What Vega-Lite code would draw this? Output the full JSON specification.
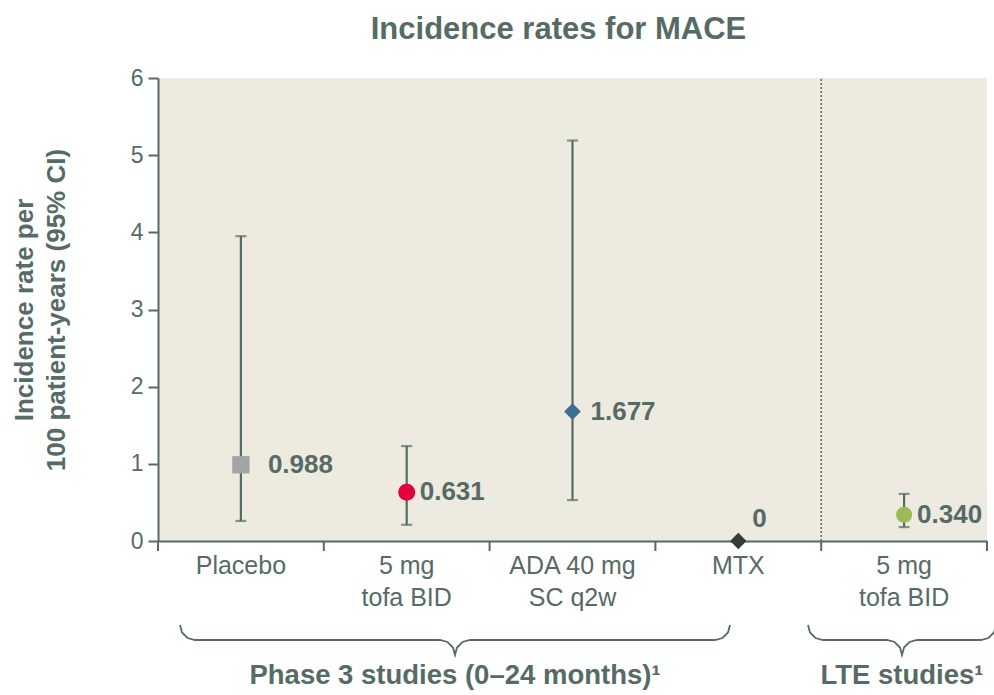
{
  "$schema": "https://vega.github.io/schema/vega-lite/v6.json",
  "width": 829,
  "height": 463,
  "autosize": {"type": "none"},
  "padding": {"left": 158, "top": 78, "right": 7, "bottom": 154},
  "background": "white",
  "title": {
    "text": "Incidence rates for MACE",
    "font": "Liberation Sans",
    "fontSize": 31,
    "fontWeight": "bold",
    "color": "#566b65",
    "anchor": "middle",
    "baseline": "alphabetic",
    "offset": 29.5,
    "dy": 32,
    "dx": -14
  },
  "config": {
    "view": {"fill": "#edeae0", "stroke": null},
    "font": "Liberation Sans",
    "axis": {
      "domainColor": "#566b65",
      "domainWidth": 2,
      "tickColor": "#566b65",
      "tickWidth": 2,
      "labelColor": "#566b65",
      "labelFont": "Liberation Sans",
      "titleColor": "#566b65",
      "titleFont": "Liberation Sans",
      "grid": false,
      "zindex": 0
    }
  },
  "datasets": {
    "rates": [
      {"cat": "Placebo", "rate": 0.988, "lo": 0.26, "hi": 3.95, "label": "0.988"},
      {"cat": "Tofa", "rate": 0.631, "lo": 0.21, "hi": 1.23, "label": "0.631"},
      {"cat": "ADA", "rate": 1.677, "lo": 0.53, "hi": 5.19, "label": "1.677"},
      {"cat": "MTX", "rate": 0, "lo": null, "hi": null, "label": "0"},
      {"cat": "LTE", "rate": 0.34, "lo": 0.18, "hi": 0.61, "label": "0.340"}
    ],
    "brace": [
      {"g": "phase", "o": 1, "x": 0.1327, "y": -1.0885},
      {"g": "phase", "o": 2, "x": 0.1448, "y": -1.1857},
      {"g": "phase", "o": 3, "x": 0.1779, "y": -1.257},
      {"g": "phase", "o": 4, "x": 0.2232, "y": -1.2829},
      {"g": "phase", "o": 5, "x": 1.7008, "y": -1.2829},
      {"g": "phase", "o": 6, "x": 1.7461, "y": -1.3088},
      {"g": "phase", "o": 7, "x": 1.7793, "y": -1.3801},
      {"g": "phase", "o": 8, "x": 1.7913, "y": -1.4773},
      {"g": "phase", "o": 9, "x": 1.8034, "y": -1.3801},
      {"g": "phase", "o": 10, "x": 1.8366, "y": -1.3088},
      {"g": "phase", "o": 11, "x": 1.8818, "y": -1.2829},
      {"g": "phase", "o": 12, "x": 3.3595, "y": -1.2829},
      {"g": "phase", "o": 13, "x": 3.4047, "y": -1.257},
      {"g": "phase", "o": 14, "x": 3.4379, "y": -1.1857},
      {"g": "phase", "o": 15, "x": 3.4499, "y": -1.0885},
      {"g": "lte", "o": 1, "x": 3.9204, "y": -1.0885},
      {"g": "lte", "o": 2, "x": 3.9324, "y": -1.1857},
      {"g": "lte", "o": 3, "x": 3.9656, "y": -1.257},
      {"g": "lte", "o": 4, "x": 4.0109, "y": -1.2829},
      {"g": "lte", "o": 5, "x": 4.3969, "y": -1.2829},
      {"g": "lte", "o": 6, "x": 4.4421, "y": -1.3088},
      {"g": "lte", "o": 7, "x": 4.4753, "y": -1.3801},
      {"g": "lte", "o": 8, "x": 4.4873, "y": -1.4773},
      {"g": "lte", "o": 9, "x": 4.4994, "y": -1.3801},
      {"g": "lte", "o": 10, "x": 4.5326, "y": -1.3088},
      {"g": "lte", "o": 11, "x": 4.5778, "y": -1.2829},
      {"g": "lte", "o": 12, "x": 4.9638, "y": -1.2829},
      {"g": "lte", "o": 13, "x": 5.009, "y": -1.257},
      {"g": "lte", "o": 14, "x": 5.0422, "y": -1.1857},
      {"g": "lte", "o": 15, "x": 5.0543, "y": -1.0885}
    ],
    "groups": [
      {"name": "Phase 3 studies (0–24 months)¹", "x": 1.7913, "y": -1.853},
      {"name": "LTE studies¹", "x": 4.4873, "y": -1.853}
    ]
  },
  "layer": [
    {
      "data": {"name": "rates"},
      "encoding": {
        "x": {
          "field": "cat",
          "type": "nominal",
          "sort": ["Placebo", "Tofa", "ADA", "MTX", "LTE"],
          "scale": {"domain": ["Placebo", "Tofa", "ADA", "MTX", "LTE"], "paddingInner": 0, "paddingOuter": 0},
          "axis": {
            "title": null,
            "ticks": false,
            "labelAngle": 0,
            "labelFontSize": 25,
            "labelPadding": 12,
            "labelLineHeight": 32,
            "labelExpr": "datum.value == 'Placebo' ? 'Placebo' : datum.value == 'Tofa' ? ['5 mg', 'tofa BID'] : datum.value == 'ADA' ? ['ADA 40 mg', 'SC q2w'] : datum.value == 'MTX' ? 'MTX' : ['5 mg', 'tofa BID']"
          }
        }
      },
      "layer": [
        {
          "transform": [{"filter": "datum.cat == 'LTE'"}],
          "mark": {"type": "rule", "color": "#566b65", "strokeWidth": 1.5, "strokeDash": [2, 2]},
          "encoding": {
            "x": {"field": "cat", "type": "nominal", "bandPosition": 0, "sort": ["Placebo", "Tofa", "ADA", "MTX", "LTE"],
              "axis": {
                "title": null,
                "ticks": false,
                "labelAngle": 0,
                "labelFontSize": 25,
                "labelPadding": 12,
                "labelLineHeight": 32,
                "labelExpr": "datum.value == 'Placebo' ? 'Placebo' : datum.value == 'Tofa' ? ['5 mg', 'tofa BID'] : datum.value == 'ADA' ? ['ADA 40 mg', 'SC q2w'] : datum.value == 'MTX' ? 'MTX' : ['5 mg', 'tofa BID']"
              }},
            "y": {"datum": 0, "type": "quantitative"},
            "y2": {"datum": 6}
          }
        },
        {
          "mark": {"type": "rule", "color": "#566b65", "strokeWidth": 2},
          "encoding": {
            "x": {"field": "cat", "type": "nominal", "bandPosition": 0, "sort": ["Placebo", "Tofa", "ADA", "MTX", "LTE"],
              "axis": {
                "title": null,
                "ticks": false,
                "labelAngle": 0,
                "labelFontSize": 25,
                "labelPadding": 12,
                "labelLineHeight": 32,
                "labelExpr": "datum.value == 'Placebo' ? 'Placebo' : datum.value == 'Tofa' ? ['5 mg', 'tofa BID'] : datum.value == 'ADA' ? ['ADA 40 mg', 'SC q2w'] : datum.value == 'MTX' ? 'MTX' : ['5 mg', 'tofa BID']"
              }},
            "y": {"datum": 0, "type": "quantitative"},
            "y2": {"datum": -0.13}
          }
        },
        {
          "transform": [{"filter": "datum.cat == 'LTE'"}],
          "mark": {"type": "rule", "color": "#566b65", "strokeWidth": 2},
          "encoding": {
            "x": {"field": "cat", "type": "nominal", "bandPosition": 1, "sort": ["Placebo", "Tofa", "ADA", "MTX", "LTE"],
              "axis": {
                "title": null,
                "ticks": false,
                "labelAngle": 0,
                "labelFontSize": 25,
                "labelPadding": 12,
                "labelLineHeight": 32,
                "labelExpr": "datum.value == 'Placebo' ? 'Placebo' : datum.value == 'Tofa' ? ['5 mg', 'tofa BID'] : datum.value == 'ADA' ? ['ADA 40 mg', 'SC q2w'] : datum.value == 'MTX' ? 'MTX' : ['5 mg', 'tofa BID']"
              }},
            "y": {"datum": 0, "type": "quantitative"},
            "y2": {"datum": -0.13}
          }
        },
        {
          "mark": {"type": "rule", "color": "#566b65", "strokeWidth": 2.2},
          "encoding": {
            "y": {
              "field": "lo",
              "type": "quantitative",
              "scale": {"domain": [0, 6], "nice": false},
              "axis": {
                "values": [0, 1, 2, 3, 4, 5, 6],
                "format": "d",
                "tickSize": 10,
                "labelPadding": 5,
                "labelFontSize": 23,
                "title": ["Incidence rate per", "100 patient-years (95% CI)"],
                "titleFontSize": 26,
                "titleFontWeight": "bold",
                "titleAngle": -90,
                "titleAlign": "center",
                "titleBaseline": "alphabetic",
                "titleLineHeight": 32,
                "titleX": -126,
                "titleY": 231.5
              }
            },
            "y2": {"field": "hi"}
          }
        },
        {
          "mark": {"type": "tick", "color": "#566b65", "thickness": 2.2, "size": 11, "orient": "horizontal"},
          "encoding": {"y": {"field": "hi", "type": "quantitative"}}
        },
        {
          "mark": {"type": "tick", "color": "#566b65", "thickness": 2.2, "size": 11, "orient": "horizontal"},
          "encoding": {"y": {"field": "lo", "type": "quantitative"}}
        },
        {
          "mark": {"type": "point", "filled": true, "opacity": 1},
          "encoding": {
            "y": {"field": "rate", "type": "quantitative"},
            "shape": {
              "field": "cat",
              "type": "nominal",
              "scale": {"domain": ["Placebo", "Tofa", "ADA", "MTX", "LTE"], "range": ["square", "circle", "diamond", "diamond", "circle"]},
              "legend": null
            },
            "color": {
              "field": "cat",
              "type": "nominal",
              "scale": {"domain": ["Placebo", "Tofa", "ADA", "MTX", "LTE"], "range": ["#a3a3a3", "#e4003b", "#3f6e94", "#343b39", "#9dba57"]},
              "legend": null
            },
            "size": {
              "field": "cat",
              "type": "ordinal",
              "scale": {"domain": ["Placebo", "Tofa", "ADA", "MTX", "LTE"], "range": [300, 256, 441, 441, 256]},
              "legend": null
            }
          }
        },
        {
          "transform": [{"filter": "datum.cat == 'Tofa' || datum.cat == 'LTE'"}],
          "mark": {"type": "text", "align": "left", "baseline": "middle", "dx": 13, "fontSize": 26, "fontWeight": "bold", "color": "#566b65"},
          "encoding": {"y": {"field": "rate", "type": "quantitative"}, "text": {"field": "label"}}
        },
        {
          "transform": [{"filter": "datum.cat == 'ADA'"}],
          "mark": {"type": "text", "align": "left", "baseline": "middle", "dx": 18, "fontSize": 26, "fontWeight": "bold", "color": "#566b65"},
          "encoding": {"y": {"field": "rate", "type": "quantitative"}, "text": {"field": "label"}}
        },
        {
          "transform": [{"filter": "datum.cat == 'Placebo'"}],
          "mark": {"type": "text", "align": "left", "baseline": "middle", "dx": 27, "fontSize": 26, "fontWeight": "bold", "color": "#566b65"},
          "encoding": {"y": {"field": "rate", "type": "quantitative"}, "text": {"field": "label"}}
        },
        {
          "transform": [{"filter": "datum.cat == 'MTX'"}],
          "mark": {"type": "text", "align": "left", "baseline": "middle", "dx": 14, "dy": -22, "fontSize": 26, "fontWeight": "bold", "color": "#566b65"},
          "encoding": {"y": {"field": "rate", "type": "quantitative"}, "text": {"field": "label"}}
        }
      ]
    },
    {
      "layer": [
        {
          "data": {"name": "brace"},
          "mark": {"type": "line", "color": "#566b65", "strokeWidth": 1.8},
          "encoding": {
            "x": {"field": "x", "type": "quantitative", "scale": {"domain": [0, 5], "nice": false, "zero": false}, "axis": null},
            "y": {"field": "y", "type": "quantitative"},
            "detail": {"field": "g"},
            "order": {"field": "o"}
          }
        },
        {
          "data": {"name": "groups"},
          "mark": {"type": "text", "align": "center", "baseline": "alphabetic", "fontSize": 27.5, "fontWeight": "bold", "color": "#566b65"},
          "encoding": {
            "x": {"field": "x", "type": "quantitative", "axis": null},
            "y": {"field": "y", "type": "quantitative"},
            "text": {"field": "name"}
          }
        }
      ]
    }
  ],
  "resolve": {"scale": {"x": "independent"}}
}
